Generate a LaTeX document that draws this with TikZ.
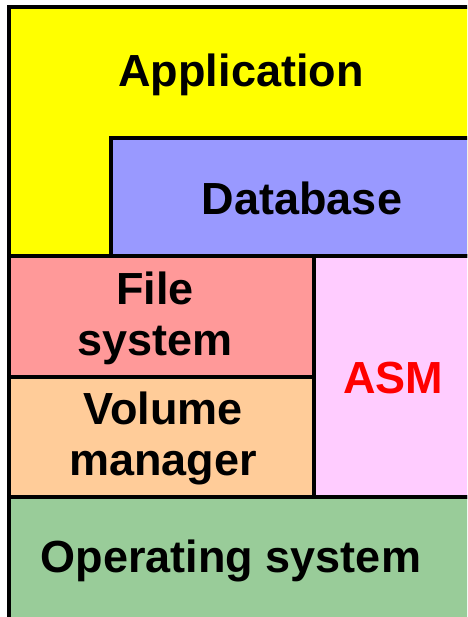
\documentclass[tikz,border=0pt]{standalone}
\usepackage{fontspec}
\setmainfont{Liberation Sans}
\definecolor{appY}{HTML}{FFFF00}
\definecolor{dbB}{HTML}{9999FF}
\definecolor{fsR}{HTML}{FF9999}
\definecolor{vmO}{HTML}{FFCC99}
\definecolor{asmP}{HTML}{FFCCFF}
\definecolor{osG}{HTML}{99CC99}
\definecolor{asmT}{HTML}{FF0000}
\begin{document}
\begin{tikzpicture}[x=1pt,y=-1pt,
  layer/.style={draw=black,line width=4.5pt,line join=miter},
  lbl/.style={font=\fontsize{45}{51}\selectfont\bfseries,text=black,inner sep=0pt,align=center}]
\useasboundingbox (0,0) rectangle (467,617);
\clip (0,0) rectangle (467,617);
\fill[white] (0,0) rectangle (467,617);
% layers
\filldraw[layer,fill=appY] (9,7) rectangle (475,256);
\filldraw[layer,fill=dbB] (111,138) rectangle (475,256);
\filldraw[layer,fill=fsR] (9,256) rectangle (314,377);
\filldraw[layer,fill=vmO] (9,377) rectangle (314,497);
\filldraw[layer,fill=asmP] (314,256) rectangle (475,497);
\filldraw[layer,fill=osG] (9,497) rectangle (475,619);
% labels
\node[lbl,anchor=base] (app) at (241,87) {Application};
\node[lbl,anchor=base] (db) at (302,215) {Database};
\node[lbl] (fs) at (155,318) {File\\system};
\node[lbl] (vm) at (163,438) {Volume\\manager};
\node[lbl,anchor=base,text=asmT] (asm) at (393,393) {ASM};
\node[lbl,anchor=base] (os) at (231,572) {Operating system};
\end{tikzpicture}
\end{document}
